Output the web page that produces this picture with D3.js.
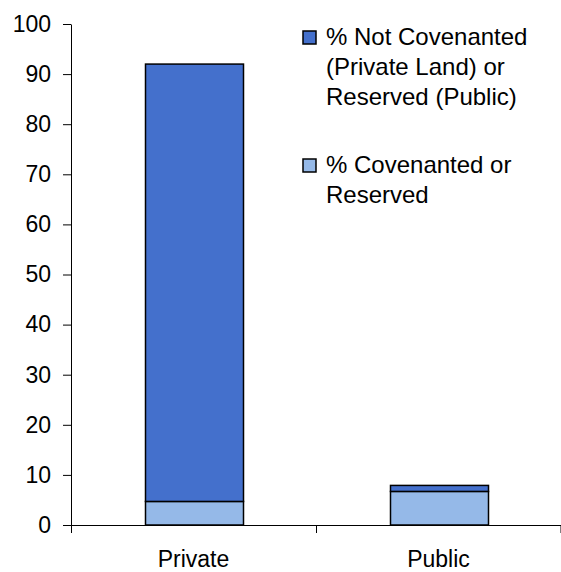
<!DOCTYPE html>
<html>
<head>
<meta charset="utf-8">
<script src="https://cdn.jsdelivr.net/npm/d3@7"></script>
<style>
  body { margin: 0; background: #fff; }
  svg { display: block; font-family: "Liberation Sans", Arial, sans-serif; }
</style>
</head>
<body>
<div id="chart"></div>
<script>
var categories = ["Private", "Public"];
var seriesKeys = ["covenanted", "notCovenanted"];
var seriesNames = ["% Not Covenanted\n(Private Land) or\nReserved (Public)", "% Covenanted or\nReserved"];
var covenanted = [4.7, 6.7];
var notCovenanted = [87.3, 1.2];
var yTicks = [0, 10, 20, 30, 40, 50, 60, 70, 80, 90, 100];

var colors = { covenanted: "#95b9e8", notCovenanted: "#4470cc" };

var margin = {top: 24, right: 0, bottom: 47, left: 71},
    width = 561 - margin.left - margin.right,
    height = 572 - margin.top - margin.bottom;

var rows = categories.map(function(c, i) {
  return { cat: c, covenanted: covenanted[i], notCovenanted: notCovenanted[i] };
});

var x = d3.scaleBand().domain(categories).range([0, width]).padding(0);
var y = d3.scaleLinear().domain([0, 100]).range([height, 0]);

var svg = d3.select("#chart").append("svg")
    .attr("width", 561)
    .attr("height", 572)
  .append("g")
    .attr("transform", "translate(" + margin.left + "," + margin.top + ")");

var stacked = d3.stack().keys(seriesKeys)(rows);
var barW = x.bandwidth() * 0.4;

svg.selectAll(".layer")
    .data(stacked)
  .enter().append("g")
    .attr("fill", function(d) { return colors[d.key]; })
  .selectAll("rect")
    .data(function(d) { return d; })
  .enter().append("rect")
    .attr("x", function(d) { return x(d.data.cat) + (x.bandwidth() - barW) / 2 + 1; })
    .attr("width", barW)
    .attr("y", function(d) { return y(d[1]); })
    .attr("height", function(d) { return y(d[0]) - y(d[1]); })
    .attr("stroke", "#000")
    .attr("stroke-width", 1.5);

// y axis
var yAxis = svg.append("g")
    .call(d3.axisLeft(y).tickValues(yTicks).tickSize(8).tickSizeOuter(0).tickPadding(12));
yAxis.select(".domain").attr("stroke", "#000");
yAxis.selectAll(".tick line").attr("stroke", "#000");
yAxis.selectAll("text")
    .style("font-size", "23px")
    .style("font-family", "Liberation Sans, Arial, sans-serif")
    .attr("fill", "#000");

// x axis
var xAxis = svg.append("g")
    .attr("transform", "translate(0," + height + ")")
    .call(d3.axisBottom(x).tickSize(0).tickSizeOuter(0).tickPadding(26));
xAxis.select(".domain").attr("stroke", "#000");
xAxis.selectAll("text")
    .style("font-size", "23px")
    .style("font-family", "Liberation Sans, Arial, sans-serif")
    .attr("fill", "#000");

var bounds = categories.map(function(c) { return x(c); }).concat([width - 0.5]);
svg.append("g").selectAll("line")
    .data(bounds)
  .enter().append("line")
    .attr("x1", function(d) { return d + 0.5; })
    .attr("x2", function(d) { return d + 0.5; })
    .attr("y1", height)
    .attr("y2", height + 8)
    .attr("stroke", "#000");

// legend
var legendKeys = ["notCovenanted", "covenanted"];
var legend = svg.append("g")
    .attr("transform", "translate(232,7)");

legendKeys.forEach(function(k, i) {
  var g = legend.append("g").attr("transform", "translate(0," + (i * 128) + ")");
  g.append("rect")
      .attr("width", 13)
      .attr("height", 13)
      .attr("fill", colors[k])
      .attr("stroke", "#000")
      .attr("stroke-width", 1.5);
  var lines = seriesNames[i].split("\n");
  g.selectAll("text")
      .data(lines)
    .enter().append("text")
      .attr("x", 23)
      .attr("y", function(d, j) { return 14 + j * 30; })
      .style("font-size", "24px")
      .text(function(d) { return d; });
});
</script>
</body>
</html>
